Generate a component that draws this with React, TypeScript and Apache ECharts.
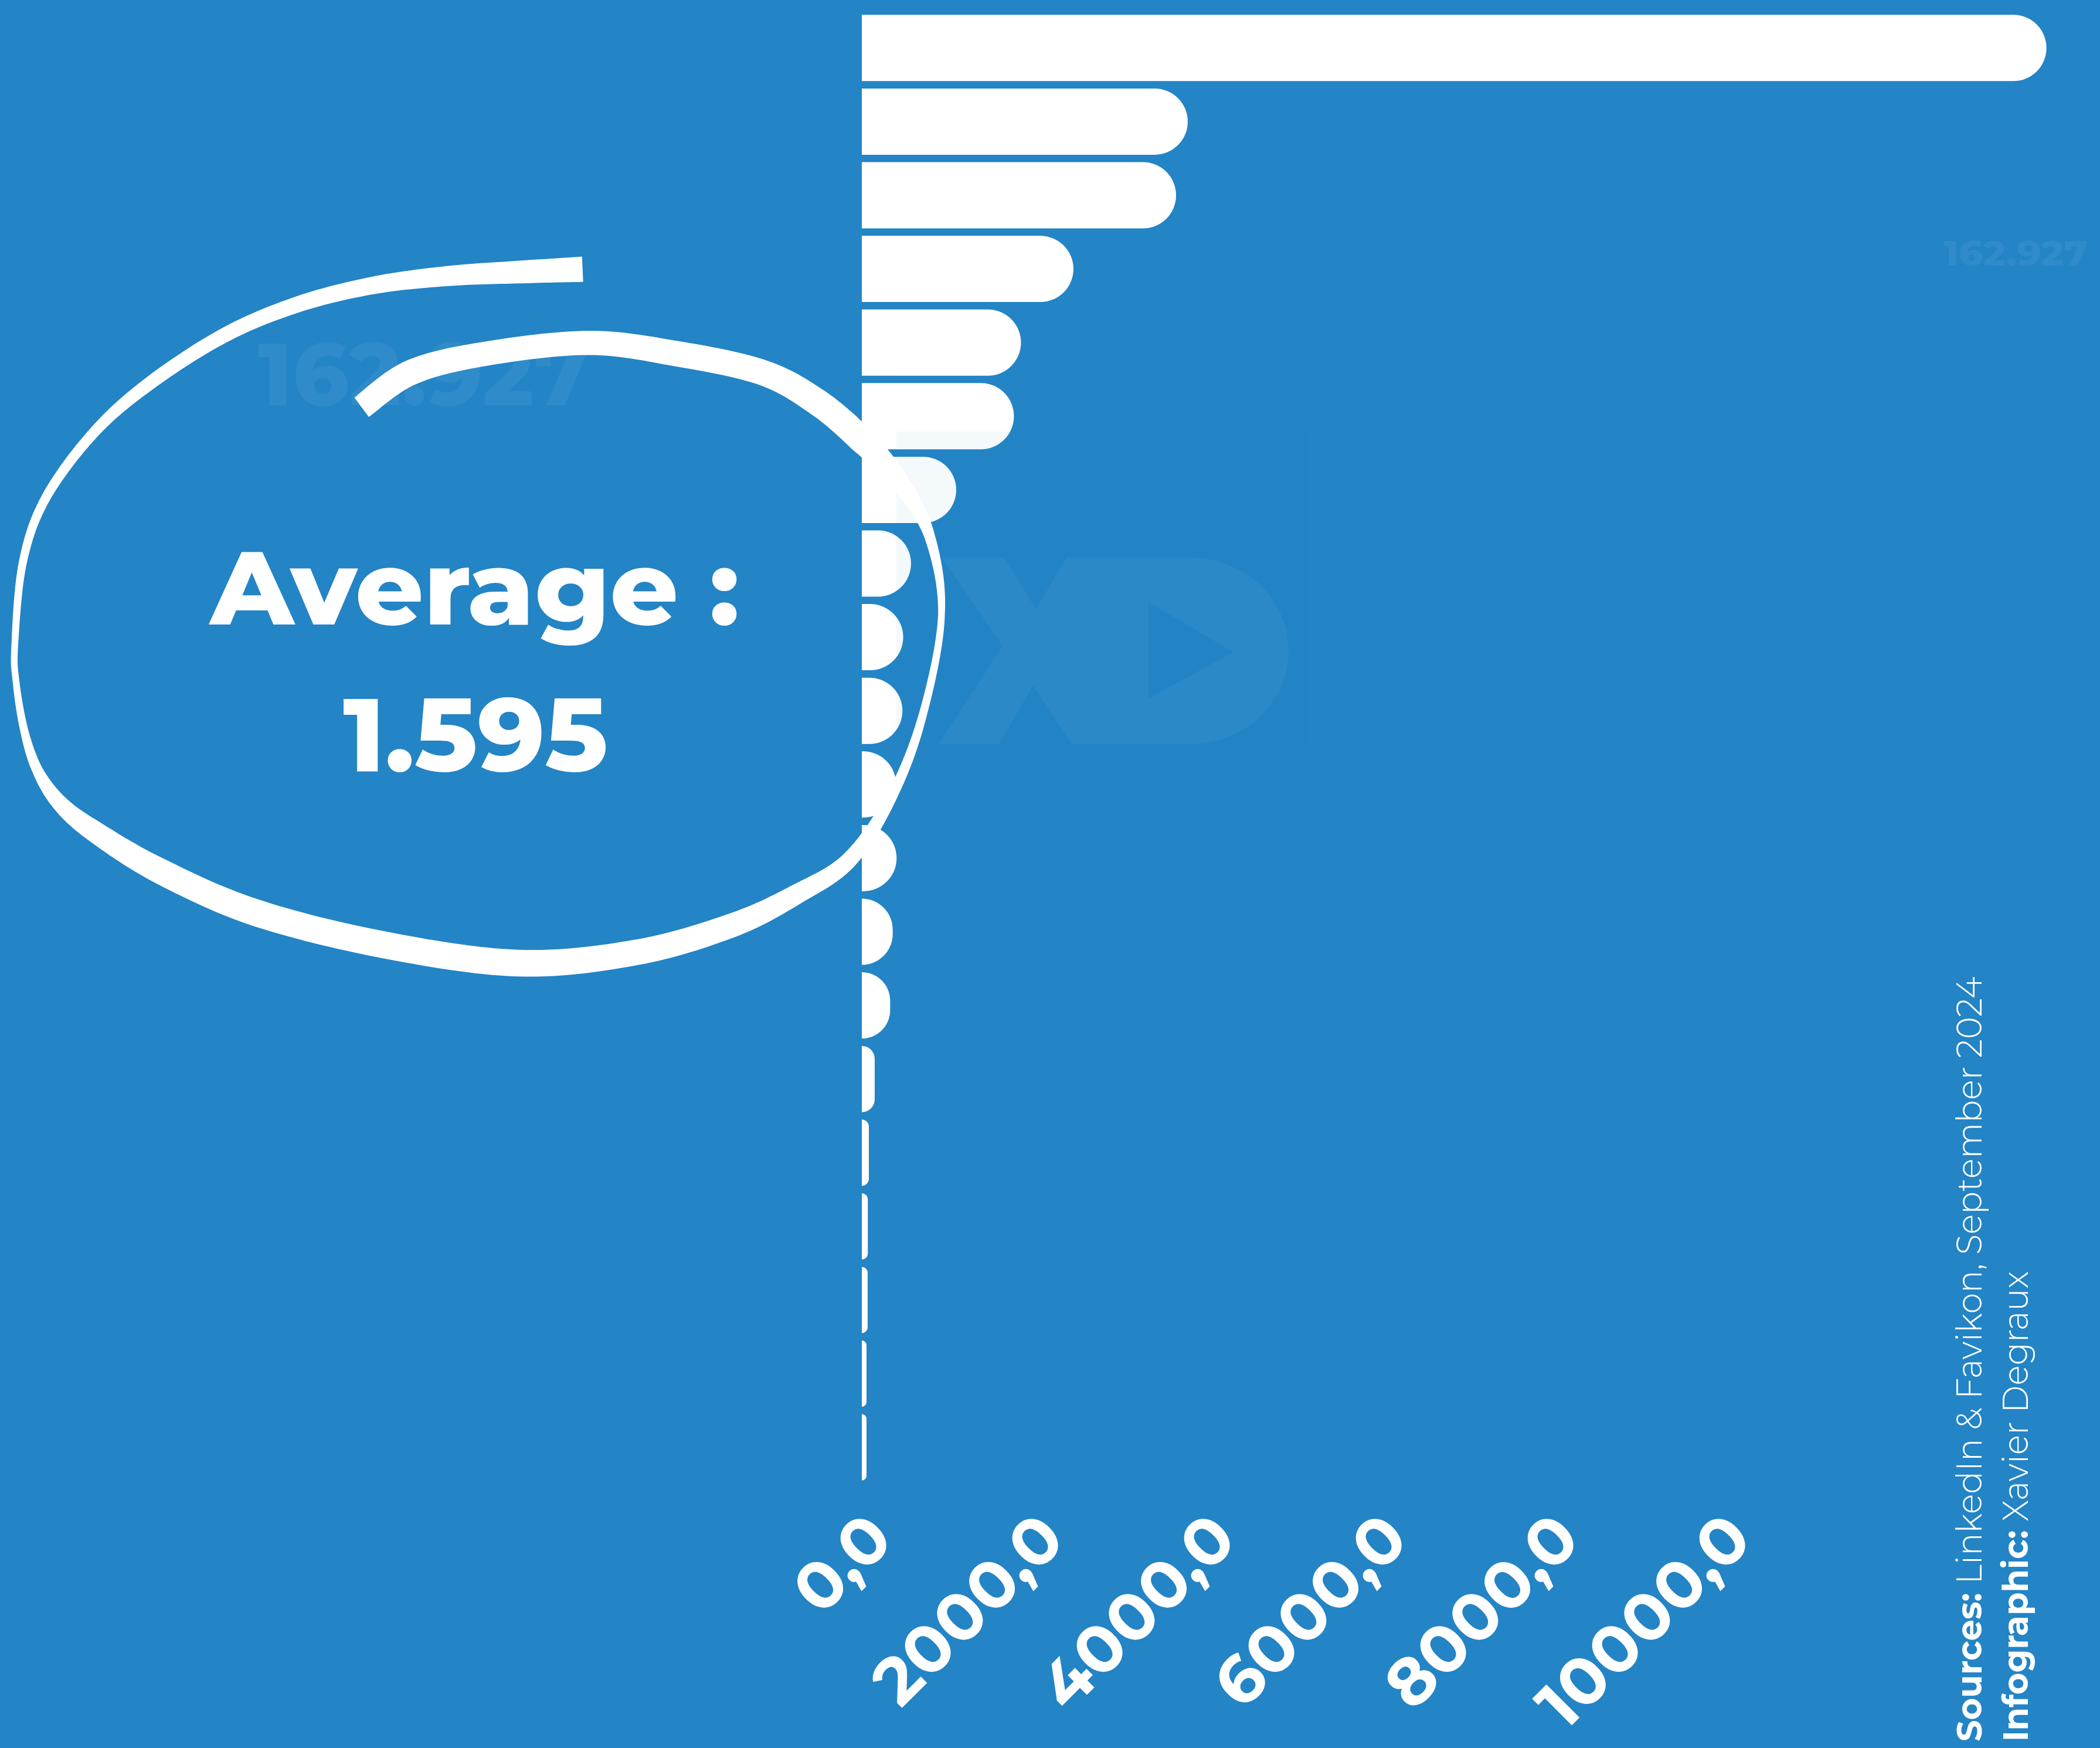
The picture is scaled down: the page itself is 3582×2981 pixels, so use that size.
import React, { useEffect, useRef } from 'react';
import * as echarts from 'echarts';

// ---------- data ----------
const categories = ['1', '2', '3', '4', '5', '6', '7', '8', '9', '10', '11', '12', '13', '14', '15', '16', '17', '18', '19', '20'];
const values = [13793, 3795, 3659, 2464, 1853, 1771, 1099, 573, 482, 473, 400, 405, 360, 330, 150, 82, 70, 68, 55, 55];
const axisMin = 0;
const axisMax = 10000;
const axisInterval = 2000;
const averageTitle = 'Average :';
const averageValue = '1.595';
const ghostValue = '162.927';
const sourceBold = 'Sources:';
const sourceText = ' LinkedIn & Favikon, September 2024';
const creditBold = 'Infographic:';
const creditText = ' Xavier Degraux';

// ---------- layout ----------
const W = 3582;
const H = 2981;
const K = W / 1568; // ring sketch coordinates were traced at 1568 px width
const BG = '#2384c6';
const FONT = "Montserrat, 'Open Sans', sans-serif";

// hand-drawn ring centre line (sketch units): x, y, stroke width
const RING: [number, number, number][] = [
  [435, 201, 19], [390, 203, 17], [335, 206, 15], [279, 213, 13], [223, 227, 12],
  [168, 250, 11], [112, 286, 10], [70, 323, 8], [34, 372, 7], [17, 420, 6],
  [11, 482, 5], [12, 509, 5], [18, 545, 6], [28, 575, 8], [45, 600, 12],
  [71, 621, 16], [119, 650, 19], [190, 681, 20], [285, 705, 20], [387, 719, 20],
  [475, 711, 19], [546, 691, 18], [594, 668, 15], [635, 641, 12], [668, 590, 8],
  [690, 530, 6], [703, 458, 5], [694, 400, 8], [672, 360, 14], [643, 328, 20],
  [610, 300, 20], [569, 278, 19], [505, 264, 19], [440, 256, 18], [363, 264, 18],
  [307, 278, 19], [270, 304, 18],
];

function cr(p0: number, p1: number, p2: number, p3: number, t: number) {
  const t2 = t * t, t3 = t2 * t;
  return 0.5 * (2 * p1 + (-p0 + p2) * t + (2 * p0 - 5 * p1 + 4 * p2 - p3) * t2 + (-p0 + 3 * p1 - 3 * p2 + p3) * t3);
}

function ringPolygon(): number[][] {
  const P = RING.map(([x, y, w]) => [x * K, y * K, w * K]);
  const n = P.length;
  const S = 16;
  const s: number[][] = [];
  for (let i = 0; i < n - 1; i++) {
    const p0 = P[Math.max(i - 1, 0)], p1 = P[i], p2 = P[i + 1], p3 = P[Math.min(i + 2, n - 1)];
    for (let k = 0; k < S; k++) {
      const t = k / S;
      s.push([cr(p0[0], p1[0], p2[0], p3[0], t), cr(p0[1], p1[1], p2[1], p3[1], t), p1[2] + (p2[2] - p1[2]) * t]);
    }
  }
  s.push(P[n - 1].slice());
  const left: number[][] = [];
  const right: number[][] = [];
  for (let k = 0; k < s.length; k++) {
    const a = s[Math.max(k - 1, 0)], b = s[Math.min(k + 1, s.length - 1)];
    const dx = b[0] - a[0], dy = b[1] - a[1];
    const len = Math.hypot(dx, dy) || 1;
    const nx = -dy / len, ny = dx / len;
    const hw = s[k][2] / 2;
    left.push([s[k][0] + nx * hw, s[k][1] + ny * hw]);
    right.push([s[k][0] - nx * hw, s[k][1] - ny * hw]);
  }
  return left.concat(right.reverse());
}

function xdPolygon(): number[][] {
  const pts: number[][] = [[1607, 951], [1713, 951], [1767, 1039], [1819, 951], [2031, 951]];
  const cx = 2031, cy = 1110, rx = 167, ry = 159;
  for (let a = -90; a <= 90; a += 6) {
    const r = (a * Math.PI) / 180;
    pts.push([cx + rx * Math.cos(r), cy + ry * Math.sin(r)]);
  }
  pts.push([1828, 1269], [1762, 1169], [1704, 1269], [1601, 1269], [1710, 1102]);
  return pts;
}

let ctx: CanvasRenderingContext2D | null = null;
function measure(text: string, weight: string | number, size: number) {
  if (!ctx) ctx = document.createElement('canvas').getContext('2d');
  if (!ctx) return text.length * size * 0.6;
  ctx.font = `${weight} ${size}px ${FONT}`;
  return ctx.measureText(text).width;
}

function fitText(text: string, x: number, y: number, size: number, weight: string | number, target: number, fill: string, z: number) {
  const w = measure(text, weight, size);
  return {
    type: 'text', x, y, z, scaleX: target / w,
    style: { text, fill, font: `${weight} ${size}px ${FONT}`, align: 'center', verticalAlign: 'middle' },
  };
}

export default function App() {
  const ref = useRef<HTMLDivElement>(null);
  useEffect(() => {
    if (!ref.current) return;
    const chart = echarts.init(ref.current, null, { renderer: 'svg', width: W, height: H });

    const srcSize = 60;
    const srcW1 = measure(sourceBold, 700, srcSize) + measure(sourceText, 300, srcSize);
    const srcW2 = measure(creditBold, 700, srcSize) + measure(creditText, 300, srcSize);

    const option: any = {
      animation: false,
      backgroundColor: BG,
      grid: { left: 1470, right: W - 2935, top: 19, bottom: H - 2531, containLabel: false, outerBoundsMode: 'none' },
      xAxis: {
        type: 'value', min: axisMin, max: axisMax, interval: axisInterval,
        axisLine: { show: false }, axisTick: { show: false }, splitLine: { show: false },
        axisLabel: {
          rotate: 45, margin: 100, padding: [0, -42, 0, 0], color: '#ffffff', fontSize: 114, lineHeight: 84,
          fontWeight: 700, fontFamily: FONT,
          formatter: (v: number) => v.toFixed(1).replace('.', ','),
        },
      },
      yAxis: {
        type: 'category', data: categories, inverse: true,
        axisLine: { show: false }, axisTick: { show: false }, axisLabel: { show: false }, splitLine: { show: false },
      },
      series: [{
        type: 'bar', data: values, clip: false, barCategoryGap: '10%',
        itemStyle: { color: '#ffffff', borderRadius: [0, 60, 60, 0] },
      }],
      graphic: {
        elements: [
          fitText(ghostValue, 722, 637, 150, 800, 565, 'rgba(255,255,255,0.06)', 1),
          fitText(ghostValue, 3438, 432, 60, 800, 246, 'rgba(255,255,255,0.06)', 1),
          { type: 'polygon', z: 50, shape: { points: xdPolygon() }, style: { fill: 'rgba(255,255,255,0.045)' } },
          { type: 'polygon', z: 51, shape: { points: [[1959, 1027], [1959, 1191], [2104, 1112]] }, style: { fill: BG } },
          { type: 'rect', z: 52, shape: { x: 1529, y: 736, width: 700, height: 534 }, style: { fill: 'rgba(35,132,198,0.05)' } },
          { type: 'polygon', z: 60, shape: { points: ringPolygon() }, style: { fill: '#ffffff' } },
          fitText(averageTitle, 810, 1002, 176, 800, 903, '#ffffff', 70),
          fitText(averageValue, 811, 1252, 176, 800, 452, '#ffffff', 70),
          {
            type: 'text', z: 70, x: 3359, y: 2970, rotation: Math.PI / 2, scaleX: 1304 / srcW1,
            style: {
              text: `{b|${sourceBold}}{l|${sourceText}}`, align: 'left', verticalAlign: 'middle',
              rich: {
                b: { fontSize: srcSize, fontWeight: 700, fontFamily: FONT, fill: '#ffffff', color: '#ffffff' },
                l: { fontSize: srcSize, fontWeight: 300, fontFamily: FONT, fill: '#ffffff', color: '#ffffff' },
              },
            },
          },
          {
            type: 'text', z: 70, x: 3438, y: 2970, rotation: Math.PI / 2, scaleX: 802 / srcW2,
            style: {
              text: `{b|${creditBold}}{l|${creditText}}`, align: 'left', verticalAlign: 'middle',
              rich: {
                b: { fontSize: srcSize, fontWeight: 700, fontFamily: FONT, fill: '#ffffff', color: '#ffffff' },
                l: { fontSize: srcSize, fontWeight: 300, fontFamily: FONT, fill: '#ffffff', color: '#ffffff' },
              },
            },
          },
        ],
      },
    };
    chart.setOption(option);
    return () => chart.dispose();
  }, []);
  return <div ref={ref} style={{ position: 'fixed', left: 0, top: 0, width: W, height: H }} />;
}
